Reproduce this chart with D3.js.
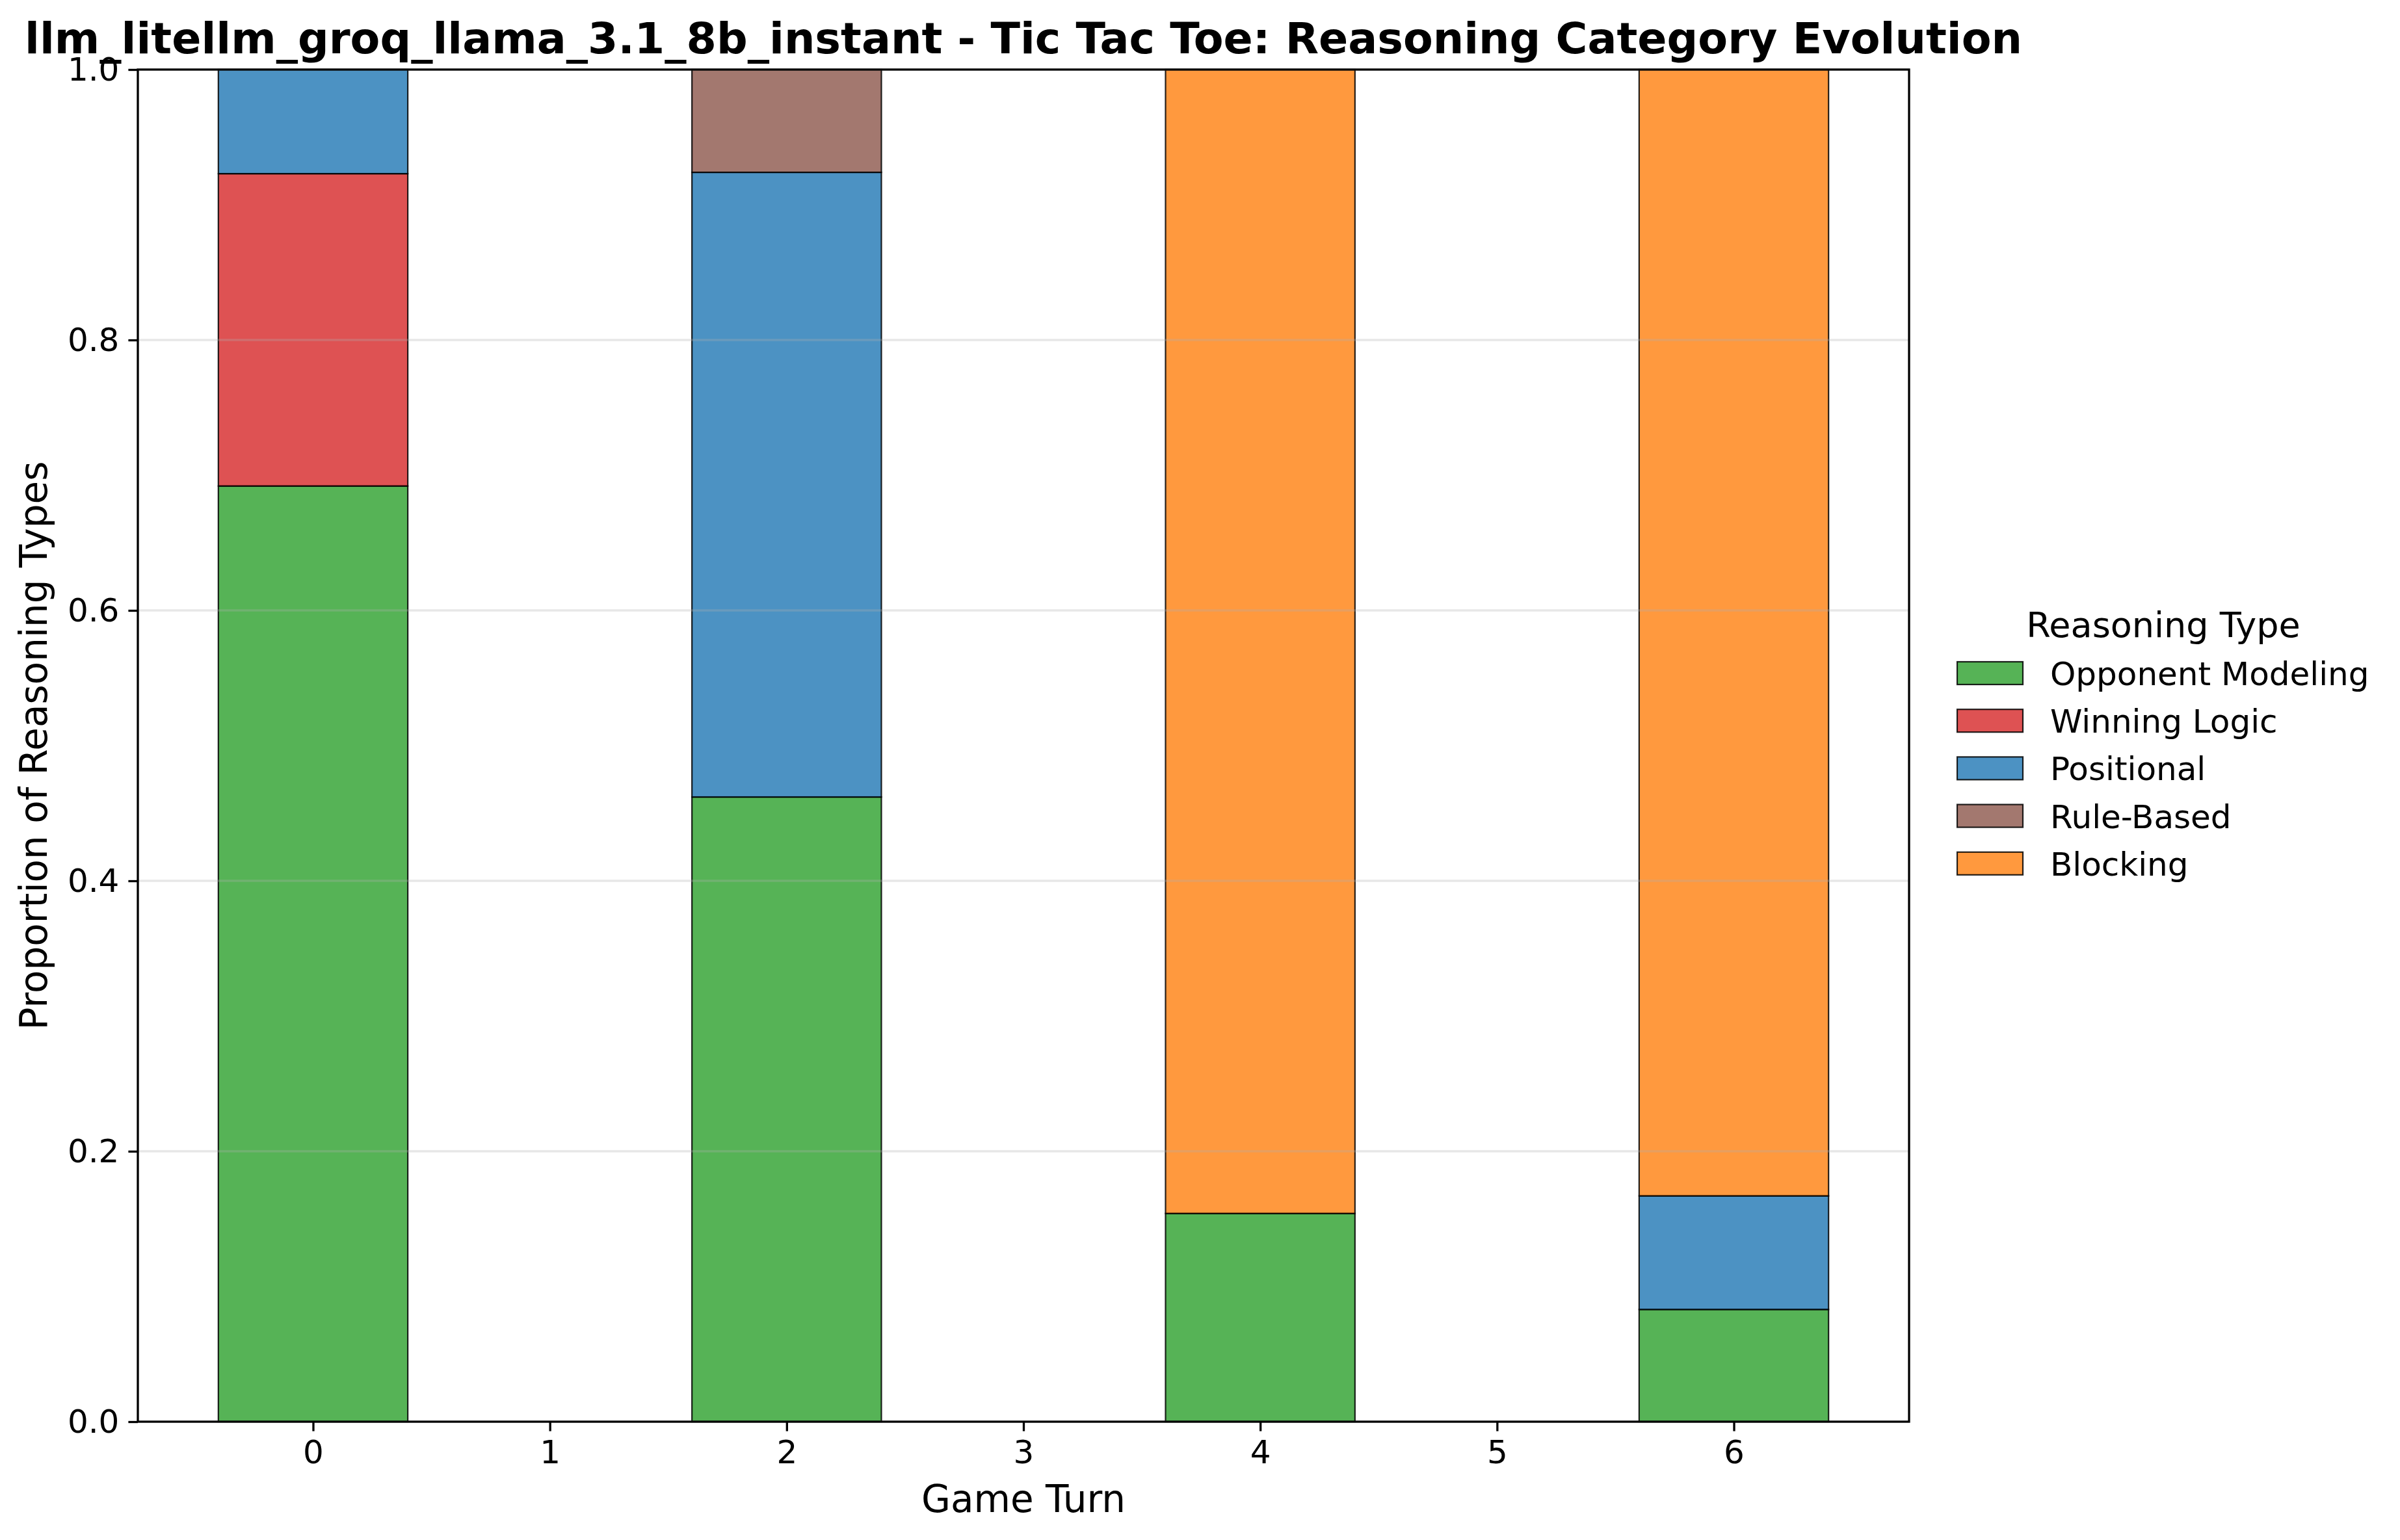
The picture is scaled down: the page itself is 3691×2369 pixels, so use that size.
<!DOCTYPE html>
<html>
<head>
<meta charset="utf-8">
<script src="https://cdn.jsdelivr.net/npm/d3@7"></script>
<style>
  body { margin: 0; background: #fff; }
  text { font-family: "DejaVu Sans", sans-serif; fill: #000; }
</style>
</head>
<body>
<div id="chart"></div>
<script>
// data
var turns = [0, 1, 2, 3, 4, 5, 6];
var categories = ['Opponent Modeling', 'Winning Logic', 'Positional', 'Rule-Based', 'Blocking'];
var colors = ['#2ca02c', '#d62728', '#1f77b4', '#8c564b', '#ff7f0e'];
var opponentModeling = [0.692, 0, 0.462, 0, 0.154, 0, 0.083];
var winningLogic     = [0.231, 0, 0,     0, 0,     0, 0];
var positional       = [0.077, 0, 0.462, 0, 0,     0, 0.084];
var ruleBased        = [0,     0, 0.076, 0, 0,     0, 0];
var blocking         = [0,     0, 0,     0, 0.846, 0, 0.833];
var yTicks = [0, 0.2, 0.4, 0.6, 0.8, 1.0];

var largura = 3691, altura = 2369;
var margin = {top: 107, right: 755, bottom: 182, left: 212};
var w = largura - margin.left - margin.right;
var h = altura - margin.top - margin.bottom;

var svg = d3.select('#chart').append('svg')
  .attr('width', largura)
  .attr('height', altura);
var g = svg.append('g')
  .attr('transform', 'translate(' + margin.left + ',' + margin.top + ')');

var series = [opponentModeling, winningLogic, positional, ruleBased, blocking];
var rows = turns.map(function (t, i) {
  var r = {turn: t};
  categories.forEach(function (c, k) { r[c] = series[k][i]; });
  return r;
});
var stacked = d3.stack().keys(categories)(rows);

var x = d3.scaleLinear().domain([-0.74, 6.74]).range([0, w]);
var y = d3.scaleLinear().domain([0, 1]).range([h, 0]);
var barW = x(0.8) - x(0);

// bars
stacked.forEach(function (layer, k) {
  g.append('g').selectAll('rect')
    .data(layer.filter(function (d) { return d[1] - d[0] > 0; }))
    .enter().append('rect')
    .attr('x', function (d) { return x(d.data.turn) - barW / 2; })
    .attr('width', barW)
    .attr('y', function (d) { return y(d[1]); })
    .attr('height', function (d) { return y(d[0]) - y(d[1]); })
    .attr('fill', colors[k])
    .attr('fill-opacity', 0.8)
    .attr('stroke', '#000')
    .attr('stroke-opacity', 0.85)
    .attr('stroke-width', 2.2);
});

// grid
g.append('g').selectAll('line')
  .data(yTicks)
  .enter().append('line')
  .attr('x1', 0).attr('x2', w)
  .attr('y1', function (d) { return y(d); })
  .attr('y2', function (d) { return y(d); })
  .attr('stroke', '#b0b0b0')
  .attr('stroke-opacity', 0.3)
  .attr('stroke-width', 3.3);

// axes
var xAxis = g.append('g')
  .attr('transform', 'translate(0,' + h + ')')
  .call(d3.axisBottom(x).tickValues(turns).tickFormat(d3.format('d')).tickSize(14.6).tickPadding(14));
var yAxis = g.append('g')
  .call(d3.axisLeft(y).tickValues(yTicks).tickFormat(d3.format('.1f')).tickSize(14.6).tickPadding(14));
[xAxis, yAxis].forEach(function (a) {
  a.select('.domain').remove();
  a.selectAll('line').attr('stroke', '#000').attr('stroke-width', 3.3);
  a.selectAll('text').style('font-family', '"DejaVu Sans", sans-serif').style('font-size', '50px').attr('fill', '#000');
});

g.append('rect')
  .attr('width', w).attr('height', h)
  .attr('fill', 'none')
  .attr('stroke', '#000')
  .attr('stroke-width', 3.3);

// titles
svg.append('text')
  .attr('x', margin.left + w / 2).attr('y', 82)
  .attr('text-anchor', 'middle')
  .style('font-size', '66.7px').style('font-weight', 'bold')
  .text('llm_litellm_groq_llama_3.1_8b_instant - Tic Tac Toe: Reasoning Category Evolution');

svg.append('text')
  .attr('x', margin.left + w / 2).attr('y', 2326)
  .attr('text-anchor', 'middle')
  .style('font-size', '58px')
  .text('Game Turn');

svg.append('text')
  .attr('transform', 'translate(72,' + (margin.top + h / 2) + ') rotate(-90)')
  .attr('text-anchor', 'middle')
  .style('font-size', '58px')
  .text('Proportion of Reasoning Types');

// legend
var legend = svg.append('g').attr('transform', 'translate(3010,0)');
legend.append('text')
  .attr('x', 317).attr('y', 980)
  .attr('text-anchor', 'middle')
  .style('font-size', '54px')
  .text('Reasoning Type');
var items = legend.selectAll('g.item')
  .data(categories)
  .enter().append('g')
  .attr('class', 'item')
  .attr('transform', function (d, i) { return 'translate(0,' + (1018 + i * 73.2) + ')'; });
items.append('rect')
  .attr('width', 101).attr('height', 35)
  .attr('fill', function (d, i) { return colors[i]; })
  .attr('fill-opacity', 0.8)
  .attr('stroke', '#000')
  .attr('stroke-opacity', 0.85)
  .attr('stroke-width', 2.2);
items.append('text')
  .attr('x', 143).attr('y', 36)
  .style('font-size', '50px')
  .text(function (d) { return d; });
</script>
</body>
</html>
